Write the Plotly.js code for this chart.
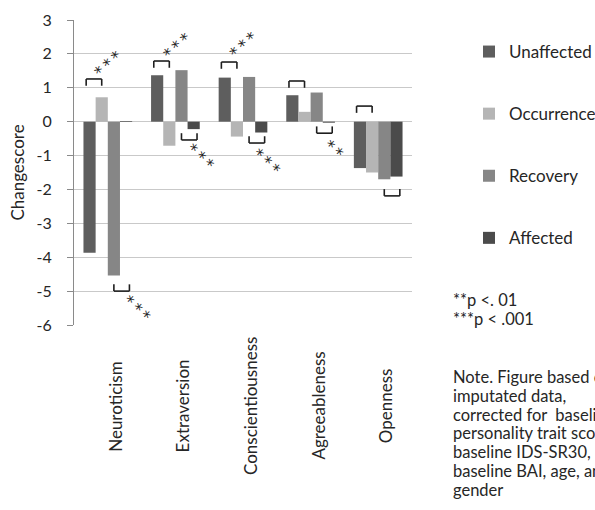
<!DOCTYPE html>
<html>
<head>
<meta charset="utf-8">
<script src="https://cdn.plot.ly/plotly-3.0.1.min.js"></script>
<style>html,body{margin:0;padding:0;background:#fff;}#chart{width:595px;height:510px;}</style>
</head>
<body>
<div id="chart"></div>
<script>
// ---- data ----
const categories = ['Neuroticism', 'Extraversion', 'Conscientiousness', 'Agreeableness', 'Openness'];
const seriesNames = ['Unaffected', 'Occurrence', 'Recovery', 'Affected'];
const unaffected = [-3.87, 1.37, 1.30, 0.78, -1.37];
const occurrence = [0.72, -0.71, -0.44, 0.29, -1.50];
const recovery   = [-4.54, 1.52, 1.32, 0.86, -1.70];
const affected   = [0.02, -0.22, -0.32, -0.03, -1.62];
const yTicks = [-6, -5, -4, -3, -2, -1, 0, 1, 2, 3];

// significance brackets (category index, side, level of horizontal line)
const bracketCategory = [0, 0, 1, 1, 2, 2, 3, 3, 4, 4];
const bracketSide = ['top', 'bottom', 'top', 'bottom', 'top', 'bottom', 'top', 'bottom', 'top', 'bottom'];
const bracketLevel = [1.26, -5.0, 1.79, -0.54, 1.76, -0.63, 1.20, -0.34, 0.46, -2.19];

// significance stars
const starCategory = [0, 0, 1, 1, 2, 2, 3];
const starText = ['***', '***', '***', '***', '***', '***', '**'];
const starSide = ['up', 'down', 'up', 'down', 'up', 'down', 'down'];
const starLevel = [1.69, -5.50, 2.22, -1.04, 2.26, -1.19, -0.82];
const starOffset = [0.0, 0.43, 0.02, 0.36, 0.0, 0.34, 0.34];

const legendNote = ['**p <. 01', '***p < .001'];
const noteLines = ['Note. Figure based on', 'imputated data,', 'corrected for  baseline',
  'personality trait scores,', 'baseline IDS-SR30,', 'baseline BAI, age, and', 'gender'];

// ---- styles ----
const colors = ['#5e5e5e', '#b5b5b5', '#868686', '#4b4b4b'];
const FONT = 'Lato, "Open Sans", sans-serif';
const TXT = '#262626';
const bargap = 0.28;
const barW = (1 - bargap) / 4;

const seriesValues = [unaffected, occurrence, recovery, affected];
const traces = seriesNames.map((name, i) => ({
  type: 'bar',
  name: name,
  x: categories,
  y: seriesValues[i],
  marker: {color: colors[i], line: {width: 0}},
  legendgroup: 'g' + i,
  hoverinfo: 'x+y+name'
}));

// plot geometry helpers (pixels)
const L = 74, R = 183, T = 20, B = 185, W = 595, H = 510;
const pw = W - L - R, ph = H - T - B;
const px2paperX = px => (px - L) / pw;
const px2paperY = py => (H - B - py) / ph;

const shapes = [];
const legH = 0.2;
bracketCategory.forEach((c, i) => {
  let x0, x1, yLine, yEnd;
  if (bracketSide[i] === 'top') {
    x0 = c - 1.5 * barW - 0.05; x1 = c - 0.5 * barW;
    yLine = bracketLevel[i]; yEnd = yLine - legH;
  } else {
    x0 = c + 0.5 * barW; x1 = c + 1.5 * barW + 0.05;
    yLine = bracketLevel[i]; yEnd = yLine + legH;
  }
  const ln = {color: '#1e1e1e', width: 1.6};
  shapes.push({type: 'line', xref: 'x', yref: 'y', x0: x0, x1: x1, y0: yLine, y1: yLine, line: ln});
  shapes.push({type: 'line', xref: 'x', yref: 'y', x0: x0, x1: x0, y0: yLine, y1: yEnd, line: ln});
  shapes.push({type: 'line', xref: 'x', yref: 'y', x0: x1, x1: x1, y0: yLine, y1: yEnd, line: ln});
});

const annotations = [];
starCategory.forEach((c, i) => {
  annotations.push({
    xref: 'x', yref: 'y', x: c + starOffset[i], y: starLevel[i],
    text: starText[i].split('').join('\u2009'),
    textangle: starSide[i] === 'up' ? -42 : 43,
    showarrow: false, xanchor: 'center', yanchor: 'middle',
    font: {family: '"DejaVu Sans", sans-serif', size: 16, color: '#1e1e1e'}
  });
});

// category labels (rotated, centred)
categories.forEach((c, i) => {
  annotations.push({
    xref: 'x', yref: 'paper', x: i, y: px2paperY(406), xshift: 7,
    text: c, textangle: -90, showarrow: false, xanchor: 'center', yanchor: 'middle',
    font: {family: FONT, size: 17, color: TXT}
  });
});

// multi-line text blocks with tight line spacing (outer size sets spacing, span sets glyph size)
function block(lines, glyph) {
  return lines.map(t => '<span style="font-size:' + glyph + 'px">' + t + '</span>').join('<br>');
}
annotations.push({
  xref: 'paper', yref: 'paper', x: px2paperX(451), y: px2paperY(288), xanchor: 'left', yanchor: 'top',
  text: block(legendNote, 16.5), showarrow: false, align: 'left',
  font: {family: FONT, size: 18.5 / 1.3, color: TXT}
});
annotations.push({
  xref: 'paper', yref: 'paper', x: px2paperX(451), y: px2paperY(365), xanchor: 'left', yanchor: 'top',
  text: block(noteLines, 16.5), showarrow: false, align: 'left',
  font: {family: FONT, size: 18.8 / 1.3, color: TXT}
});

const layout = {
  width: W, height: H,
  margin: {l: L, r: R, t: T, b: B, pad: 0, autoexpand: false},
  paper_bgcolor: '#ffffff', plot_bgcolor: '#ffffff',
  barmode: 'group', bargap: bargap, bargroupgap: 0,
  font: {family: FONT, size: 17, color: TXT},
  showlegend: true,
  legend: {
    x: px2paperX(469), xanchor: 'left', y: px2paperY(34), yanchor: 'top',
    traceorder: 'grouped', tracegroupgap: 37,
    font: {family: FONT, size: 17, color: TXT},
    bgcolor: 'rgba(0,0,0,0)', borderwidth: 0
  },
  xaxis: {
    type: 'category', showticklabels: false, showgrid: false, zeroline: false,
    showline: false, ticks: '', fixedrange: true
  },
  yaxis: {
    range: [-6, 3], tickvals: yTicks, ticktext: yTicks.map(String),
    showgrid: true, gridcolor: '#c9c9c9', gridwidth: 1,
    zeroline: false, showline: true, linecolor: '#8a8a8a', linewidth: 1,
    ticks: 'outside', ticklen: 6, tickcolor: '#8a8a8a', ticklabelstandoff: 12,
    tickfont: {family: FONT, size: 16, color: TXT},
    title: {text: 'Changescore', font: {family: FONT, size: 17, color: TXT}, standoff: 7},
    fixedrange: true
  },
  shapes: shapes,
  annotations: annotations
};

Plotly.newPlot('chart', traces, layout, {displayModeBar: false, staticPlot: true});
</script>
</body>
</html>
